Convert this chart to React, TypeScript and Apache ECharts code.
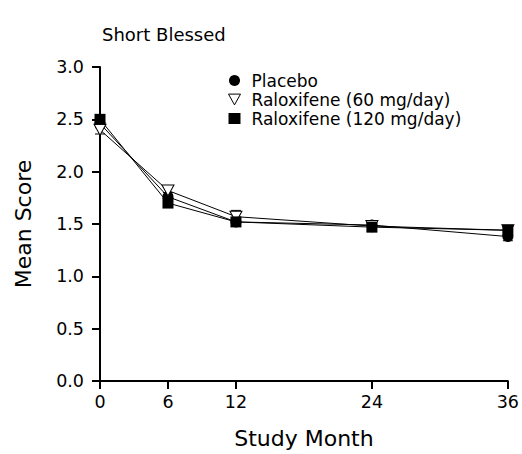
import React, { useEffect, useRef } from "react";
import * as echarts from "echarts";

const months = [0, 6, 12, 24, 36];
const xTicks = [0, 6, 12, 24, 36];
const seriesNames = ["Placebo", "Raloxifene (60 mg/day)", "Raloxifene (120 mg/day)"];
const placebo = [2.46, 1.76, 1.52, 1.49, 1.38];
const ralox60 = [2.4, 1.82, 1.57, 1.48, 1.44];
const ralox120 = [2.5, 1.7, 1.52, 1.47, 1.44];
const placeboErr = [0.04, 0.04, 0.04, 0.04, 0.04];
const ralox60Err = [0.04, 0.04, 0.06, 0.04, 0.04];
const ralox120Err = [0.04, 0.04, 0.04, 0.04, 0.04];

const TRI = "path://M0,0 L10,0 L5,9 Z";
const FONT = "DejaVu Sans";

function errSeries(name: string, vals: number[], errs: number[]) {
  return {
    type: "custom",
    name: name + " err",
    z: 1,
    silent: true,
    data: months.map((m, i) => [m, vals[i] - errs[i], vals[i] + errs[i]]),
    renderItem: (params: any, api: any) => {
      const lo = api.coord([api.value(0), api.value(1)]);
      const hi = api.coord([api.value(0), api.value(2)]);
      const w = 5;
      const st = { stroke: "#000", lineWidth: 1 };
      return {
        type: "group",
        children: [
          { type: "line", shape: { x1: lo[0], y1: lo[1], x2: hi[0], y2: hi[1] }, style: st },
          { type: "line", shape: { x1: hi[0] - w, y1: hi[1], x2: hi[0] + w, y2: hi[1] }, style: st },
          { type: "line", shape: { x1: lo[0] - w, y1: lo[1], x2: lo[0] + w, y2: lo[1] }, style: st },
        ],
      };
    },
  };
}

export default function App() {
  const ref = useRef<HTMLDivElement>(null);
  useEffect(() => {
    const chart = echarts.init(ref.current!, null, { renderer: "svg" });
    const lineBase = {
      type: "line",
      z: 3,
      lineStyle: { color: "#000", width: 1 },
    };
    chart.setOption({
      animation: false,
      backgroundColor: "#fff",
      textStyle: { fontFamily: FONT },
      title: {
        text: "Short Blessed",
        left: 102,
        top: 25,
        padding: 0,
        textStyle: { fontFamily: FONT, fontSize: 18, fontWeight: "normal", color: "#000" },
      },
      legend: {
        orient: "vertical",
        left: 228,
        top: 72,
        padding: 0,
        itemGap: 2,
        itemWidth: 12,
        itemHeight: 11,
        data: [
          { name: seriesNames[0], icon: "circle", itemStyle: { color: "#000" } },
          { name: seriesNames[1], icon: TRI, itemStyle: { color: "#fff", borderColor: "#000", borderWidth: 1 } },
          { name: seriesNames[2], icon: "rect", itemStyle: { color: "#000" } },
        ],
        textStyle: { fontFamily: FONT, fontSize: 17, lineHeight: 17, color: "#000", padding: [0, 0, 0, 6] },
      },
      grid: { left: 100, right: 8, top: 67, bottom: 67 },
      xAxis: {
        type: "value",
        min: 0,
        max: 36,
        interval: 6,
        name: "Study Month",
        nameLocation: "middle",
        nameGap: 46,
        nameTextStyle: { fontFamily: FONT, fontSize: 22, color: "#000" },
        axisLine: { lineStyle: { color: "#000", width: 2 } },
        axisTick: { show: true, length: 8, lineStyle: { color: "#000", width: 2 }, customValues: xTicks },
        axisLabel: { customValues: xTicks, fontFamily: FONT, fontSize: 17.5, color: "#000", margin: 12 },
        splitLine: { show: false },
      },
      yAxis: {
        type: "value",
        min: 0,
        max: 3,
        interval: 0.5,
        name: "Mean Score",
        nameLocation: "middle",
        nameGap: 66,
        nameTextStyle: { fontFamily: FONT, fontSize: 22, color: "#000" },
        axisLine: { show: true, lineStyle: { color: "#000", width: 2 } },
        axisTick: { show: true, length: 8, lineStyle: { color: "#000", width: 2 } },
        axisLabel: {
          fontFamily: FONT,
          fontSize: 17.5,
          color: "#000",
          margin: 16,
          formatter: (v: number) => v.toFixed(1),
        },
        splitLine: { show: false },
      },
      series: [
        errSeries(seriesNames[0], placebo, placeboErr),
        errSeries(seriesNames[1], ralox60, ralox60Err),
        errSeries(seriesNames[2], ralox120, ralox120Err),
        {
          ...lineBase,
          name: seriesNames[0],
          data: months.map((m, i) => [m, placebo[i]]),
          symbol: "circle",
          symbolSize: 11,
          itemStyle: { color: "#000" },
        },
        {
          ...lineBase,
          name: seriesNames[1],
          data: months.map((m, i) => [m, ralox60[i]]),
          symbol: TRI,
          symbolSize: [12, 11],
          itemStyle: { color: "#fff", borderColor: "#000", borderWidth: 1 },
        },
        {
          ...lineBase,
          name: seriesNames[2],
          data: months.map((m, i) => [m, ralox120[i]]),
          symbol: "rect",
          symbolSize: 11,
          itemStyle: { color: "#000" },
        },
      ],
    });
    return () => chart.dispose();
  }, []);
  return <div ref={ref} style={{ width: 522, height: 454, position: "absolute", left: 0, top: 0 }} />;
}
